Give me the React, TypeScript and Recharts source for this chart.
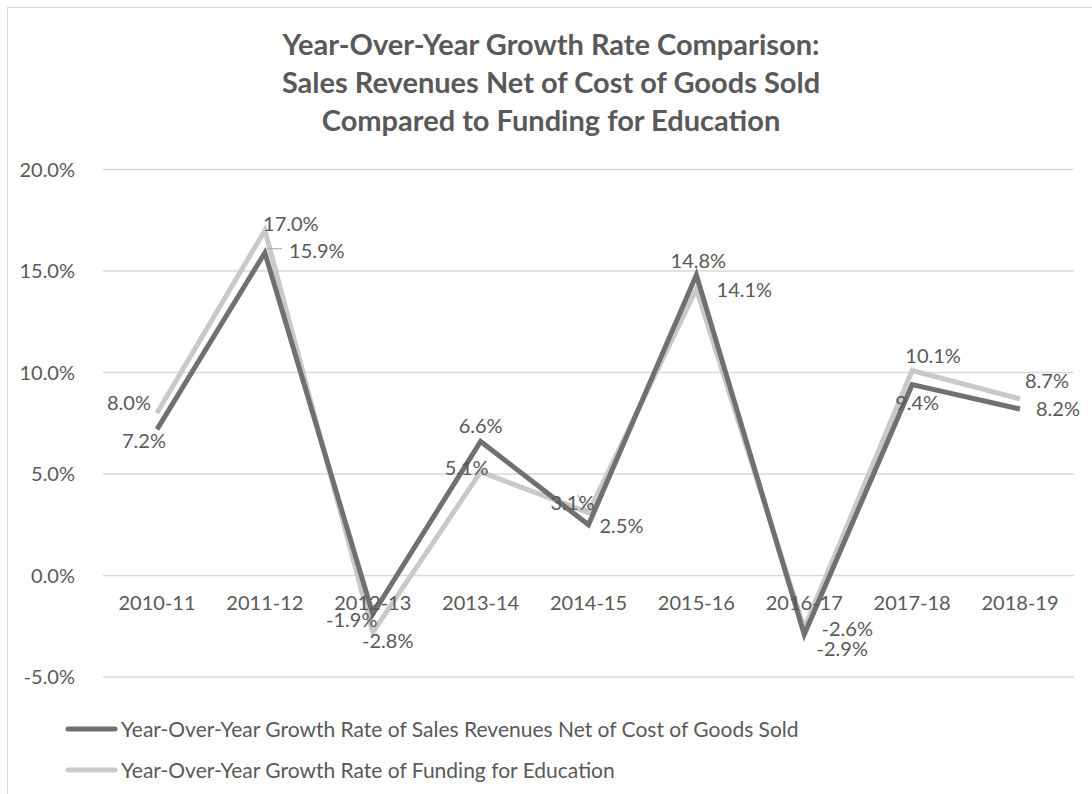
import { LineChart, Line, XAxis, YAxis, CartesianGrid, LabelList } from 'recharts';

const years = ['2010-11', '2011-12', '2012-13', '2013-14', '2014-15', '2015-16', '2016-17', '2017-18', '2018-19'];
const salesGrowth = [7.2, 15.9, -1.9, 6.6, 2.5, 14.8, -2.9, 9.4, 8.2];
const educationGrowth = [8.0, 17.0, -2.8, 5.1, 3.1, 14.1, -2.6, 10.1, 8.7];
const yTicks = [-5, 0, 5, 10, 15, 20];

const salesName = 'Year-Over-Year Growth Rate of Sales Revenues Net of Cost of Goods Sold';
const educationName = 'Year-Over-Year Growth Rate of Funding for Education';

// label nudges (dx, dy) from each point, matching the hand-placed labels
const salesLabelShift = [[-13, 14], [52, 0], [-21, 8], [0, -14], [33, 3], [2, -12], [38, 17], [5, 20], [38, 2]];
const educationLabelShift = [[-28, -8], [26, -4], [15, 11], [-14, -2], [-16, -8], [48, 3], [43, 3], [21, -13], [27, -16]];
// leader lines for labels that were dragged away (x1, y1, x2, y2 relative to the point)
const salesLeaders: (number[] | null)[] = [null, [2, -4], null, null, null, null, null, null, null];
const educationLeaders: (number[] | null)[] = [null, null, null, null, [-11, -18, -2, -2], null, null, null, null];

const data = years.map((year, i) => ({
  year,
  sales: salesGrowth[i],
  education: educationGrowth[i],
}));

const FONT = 'Lato, "Open Sans", sans-serif';
const TEXT = '#595959';
const DARK = '#707070';
const LIGHT = '#c9c9c9';

const W = 1090;
const H = 790;
const TOP = 161.5;
const BOTTOM_Y = 669;
const AXIS_H = 20;
const Y_MIN = -5;
const Y_MAX = 20;
const zeroY = TOP + ((Y_MAX - 0) / (Y_MAX - Y_MIN)) * (BOTTOM_Y - TOP);

const pct = (v: number) => `${v.toFixed(1)}%`;

function CategoryTick({ x, payload }: any) {
  return (
    <text x={x} y={zeroY + 29} textAnchor="middle" dominantBaseline="middle" fill={TEXT} fontSize={20} fontFamily={FONT}>
      {payload.value}
    </text>
  );
}

function makeLabel(shift: number[][], leaders: (number[] | null)[]) {
  return (props: any) => {
    const { x, y, value, index } = props;
    const [dx, dy] = shift[index] || [0, 0];
    const lead = leaders[index];
    return (
      <g>
        {lead && lead.length === 2 && (
          <line x1={x + lead[0]} y1={y + lead[1]} x2={x + lead[0] + 15} y2={y + lead[1]} stroke="#a6a6a6" strokeWidth={1} />
        )}
        {lead && lead.length === 4 && (
          <line x1={x + lead[0]} y1={y + lead[1]} x2={x + lead[2]} y2={y + lead[3]} stroke="#a6a6a6" strokeWidth={1} />
        )}
        <text x={x + dx} y={y + dy} textAnchor="middle" dominantBaseline="middle" fill={TEXT} fontSize={20} fontFamily={FONT}>
          {pct(value)}
        </text>
      </g>
    );
  };
}

function LegendRows() {
  const rows = [
    { name: salesName, color: DARK },
    { name: educationName, color: LIGHT },
  ];
  return (
    <div style={{ position: 'absolute', left: 57, top: 700, fontFamily: FONT, fontSize: 21, color: TEXT }}>
      {rows.map(r => (
        <div key={r.name} style={{ display: 'flex', alignItems: 'center', height: 41, whiteSpace: 'nowrap' }}>
          <svg width={53} height={10} style={{ marginRight: 3 }}>
            <line x1={3} y1={5} x2={50} y2={5} stroke={r.color} strokeWidth={5} strokeLinecap="round" />
          </svg>
          <span>{r.name}</span>
        </div>
      ))}
    </div>
  );
}

export default function App() {
  return (
    <div style={{ position: 'absolute', left: 7, top: 7, width: W, height: H, border: '1px solid #d9d9d9', background: '#fff' }}>
      <div style={{ position: 'absolute', left: 0, right: 0, top: 17, textAlign: 'center', fontFamily: FONT, fontWeight: 700, fontSize: 29, lineHeight: '38px', color: TEXT, paddingRight: 4 }}>
        Year-Over-Year Growth Rate Comparison:
        <br />
        Sales Revenues Net of Cost of Goods Sold
        <br />
        Compared to Funding for Education
      </div>
      <LineChart width={W} height={H} data={data} margin={{ top: TOP, right: W - 1066, bottom: H - BOTTOM_Y - AXIS_H, left: 0 }}>
        <CartesianGrid vertical={false} stroke="#d9d9d9" strokeWidth={1.5} />
        <XAxis
          dataKey="year"
          axisLine={false}
          tickLine={false}
          height={AXIS_H}
          tick={<CategoryTick />}
          interval={0}
          padding={{ left: 54, right: 54 }}
        />
        <YAxis
          domain={[Y_MIN, Y_MAX]}
          ticks={yTicks}
          width={95}
          axisLine={false}
          tickLine={false}
          tickFormatter={pct}
          tick={{ fill: TEXT, fontSize: 20, fontFamily: FONT }}
          tickMargin={22}
        />
        <Line
          type="linear"
          dataKey="education"
          name={educationName}
          stroke={LIGHT}
          strokeWidth={5}
          dot={false}
          isAnimationActive={false}
        >
          <LabelList dataKey="education" content={makeLabel(educationLabelShift, educationLeaders)} />
        </Line>
        <Line
          type="linear"
          dataKey="sales"
          name={salesName}
          stroke={DARK}
          strokeWidth={5}
          dot={false}
          isAnimationActive={false}
        >
          <LabelList dataKey="sales" content={makeLabel(salesLabelShift, salesLeaders)} />
        </Line>
      </LineChart>
      <LegendRows />
    </div>
  );
}
